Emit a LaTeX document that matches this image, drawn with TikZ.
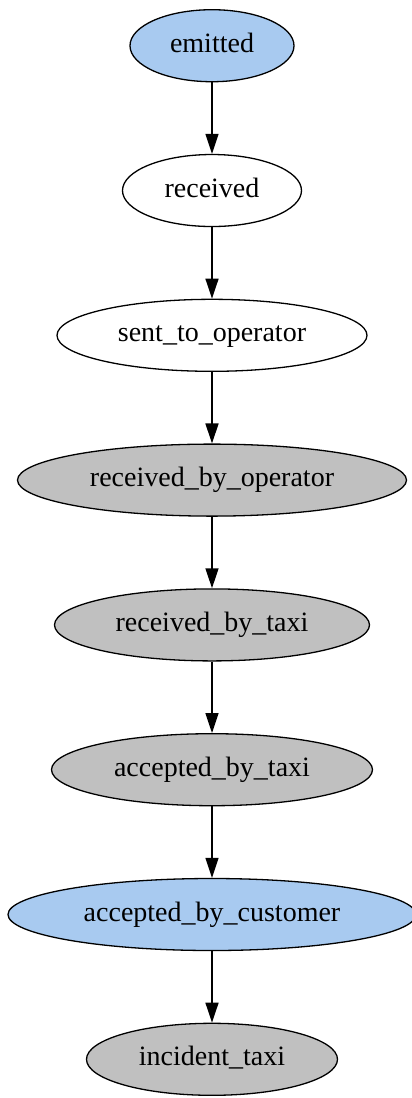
\documentclass[tikz,border=0pt]{standalone}
\usepackage{fontspec}
\setmainfont{Liberation Serif}
\usepackage{tikz}
\usetikzlibrary{matrix,arrows.meta,shapes.geometric}
\definecolor{stateblue}{RGB}{168,202,240}
\definecolor{stategray}{RGB}{192,192,192}

\begin{document}
\begin{tikzpicture}[
  state/.style={ellipse, draw, line width=1.3pt, minimum height=72pt, inner sep=0pt,
    text height=19pt, text depth=6pt, font=\fontsize{28}{34}\selectfont},
  blue/.style={state, fill=stateblue},
  grey/.style={state, fill=stategray},
  plain/.style={state, fill=white},
  >={Triangle[length=20pt,width=13pt]}
]
  \useasboundingbox (0,0) rectangle (412pt,-1098pt);
  \matrix (m) at (212pt,-552.5pt) [matrix of nodes, row sep=71.5pt, inner sep=0pt]
  {
    |[blue,  minimum width=164pt]| emitted \\
    |[plain, minimum width=179pt]| received \\
    |[plain, minimum width=310pt]| sent\_to\_operator \\
    |[grey,  minimum width=389pt]| received\_by\_operator \\
    |[grey,  minimum width=315pt]| received\_by\_taxi \\
    |[grey,  minimum width=321pt]| accepted\_by\_taxi \\
    |[blue,  minimum width=408pt]| accepted\_by\_customer \\
    |[grey,  minimum width=251pt]| incident\_taxi \\
  };
  \path[->, line width=1.5pt]
  (m-1-1) edge (m-2-1)
  (m-2-1) edge (m-3-1)
  (m-3-1) edge (m-4-1)
  (m-4-1) edge (m-5-1)
  (m-5-1) edge (m-6-1)
  (m-6-1) edge (m-7-1)
  (m-7-1) edge (m-8-1)
  ;
\end{tikzpicture}
\end{document}
